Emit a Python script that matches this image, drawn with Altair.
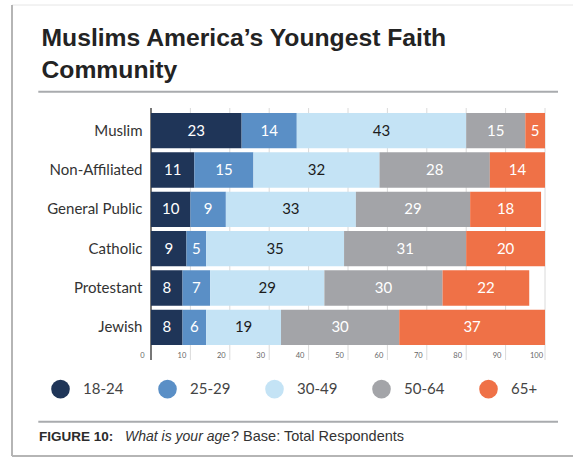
import altair as alt
import pandas as pd

# ---- data ----
groups = ["Muslim", "Non-Affiliated", "General Public", "Catholic", "Protestant", "Jewish"]
ages = ["18-24", "25-29", "30-49", "50-64", "65+"]
v_18_24 = [23, 11, 10, 9, 8, 8]
v_25_29 = [14, 15, 9, 5, 7, 6]
v_30_49 = [43, 32, 33, 35, 29, 19]
v_50_64 = [15, 28, 29, 31, 30, 30]
v_65_plus = [5, 14, 18, 20, 22, 37]
tick_values = [0, 10, 20, 30, 40, 50, 60, 70, 80, 90, 100]

title_line1 = "Muslims America\u2019s Youngest Faith"
title_line2 = "Community"
footer_bold = "FIGURE 10:"
footer_italic = "What is your age"
footer_regular = "? Base: Total Respondents"

colors = ["#1f3558", "#5a8fc6", "#c4e3f5", "#a3a4a8", "#ef7147"]

series = [v_18_24, v_25_29, v_30_49, v_50_64, v_65_plus]
rows = []
for gi, g in enumerate(groups):
    for ai, a in enumerate(ages):
        rows.append({"group": g, "age": a, "order": ai, "value": series[ai][gi]})
df = pd.DataFrame(rows)
ticks_df = pd.DataFrame({"t": tick_values})

W, H = 394, 236

x_axis = alt.Axis(values=tick_values, title=None, labelFont="Lato", labelFontSize=7.5,
                  labelColor="#666666", labelOffset=-9, labelPadding=4, ticks=False,
                  domain=False, grid=False, labelFlush=False)
x_scale = alt.Scale(domain=[0, 100], nice=False)
y_scale = alt.Scale(domain=groups, paddingInner=0.1, paddingOuter=0.05)
y_axis = alt.Axis(title=None, labelFont="Lato", labelFontSize=15, labelColor="#333333",
                  ticks=False, domain=False, labelPadding=9)

grid = alt.Chart(ticks_df).mark_rule().encode(
    x=alt.X("t:Q", scale=x_scale, axis=x_axis),
    y=alt.value(-3),
    y2=alt.value(H + 13),
    color=alt.condition(alt.datum.t == 0, alt.value("#555555"), alt.value("#dadada")),
    strokeWidth=alt.condition(alt.datum.t == 0, alt.value(1.6), alt.value(1)),
)

base = alt.Chart(df).transform_stack(
    stack="value", groupby=["group"], as_=["x0", "x1"],
    sort=[alt.SortField("order", order="ascending")]
).transform_calculate(mid="(datum.x0 + datum.x1) / 2")

bars = base.mark_bar(stroke=None).encode(
    y=alt.Y("group:N", scale=y_scale, axis=y_axis, sort=groups),
    x=alt.X("x0:Q", scale=x_scale, axis=x_axis),
    x2="x1:Q",
    color=alt.Color("age:N", scale=alt.Scale(domain=ages, range=colors),
                    legend=alt.Legend(title=None, orient="none", legendX=-100, legendY=268.5,
                                      direction="horizontal", symbolType="circle",
                                      symbolSize=346, symbolStrokeWidth=0, symbolOpacity=1,
                                      labelFont="Lato", labelFontSize=15, labelColor="#444444",
                                      labelOffset=13, columnPadding=34, padding=0)),
)

labels = base.mark_text(font="Lato", fontSize=15, align="center", baseline="middle").encode(
    y=alt.Y("group:N", scale=y_scale, axis=y_axis, sort=groups),
    x=alt.X("mid:Q", scale=x_scale, axis=x_axis),
    text=alt.Text("value:Q"),
    color=alt.condition(alt.datum.age == "30-49", alt.value("#1c1c1c"), alt.value("#ffffff")),
)

one = alt.Data(values=[{}])

def deco_text(txt, x, y, **kw):
    return alt.Chart(one).mark_text(align="left", baseline="alphabetic", **kw).encode(
        x=alt.value(x), y=alt.value(y), text=alt.value(txt))

def hrule(x, x2, y, color, sw):
    return alt.Chart(one).mark_rule(color=color, strokeWidth=sw).encode(
        x=alt.value(x), x2=alt.value(x2), y=alt.value(y))

def vrule(x, y, y2, color, sw):
    return alt.Chart(one).mark_rule(color=color, strokeWidth=sw).encode(
        x=alt.value(x), y=alt.value(y), y2=alt.value(y2))

title1 = deco_text(title_line1, -109.5, -65.3, font="Liberation Sans", fontSize=24.7,
                   fontWeight="bold", color="#232323")
title2 = deco_text(title_line2, -109.5, -32.7, font="Liberation Sans", fontSize=24.7,
                   fontWeight="bold", color="#232323")
div_top = hrule(-112.7, 407, -19.3, "#a9abae", 2)
div_bot = hrule(-112.7, 407, 310.7, "#a9abae", 2)
foot1 = deco_text(footer_bold, -112, 329.7, font="Liberation Sans", fontSize=13.5,
                  fontWeight="bold", color="#2b2b2b")
foot2 = deco_text(footer_italic, -26, 329.7, font="Liberation Sans", fontSize=14,
                  fontStyle="italic", color="#333333")
foot3 = deco_text(footer_regular, 80, 329.7, font="Liberation Sans", fontSize=14.5,
                  color="#333333")
frame_left = vrule(-139, -106, 345, "#b5b5b5", 2)
frame_bottom = hrule(-139, 460, 345, "#b5b5b5", 2)
frame_top = hrule(-139, 460, -106, "#e6e6e6", 1)

chart = alt.layer(
    frame_top, frame_left, frame_bottom, div_top, div_bot,
    grid, bars, labels, title1, title2, foot1, foot2, foot3,
).properties(
    width=W, height=H,
    autosize=alt.AutoSizeParams(type="none"),
    padding={"left": 151, "top": 111, "right": 28, "bottom": 111},
    background="white",
).configure_view(stroke=None)

chart.save("out.html", embed_options={"renderer": "svg", "actions": False})
